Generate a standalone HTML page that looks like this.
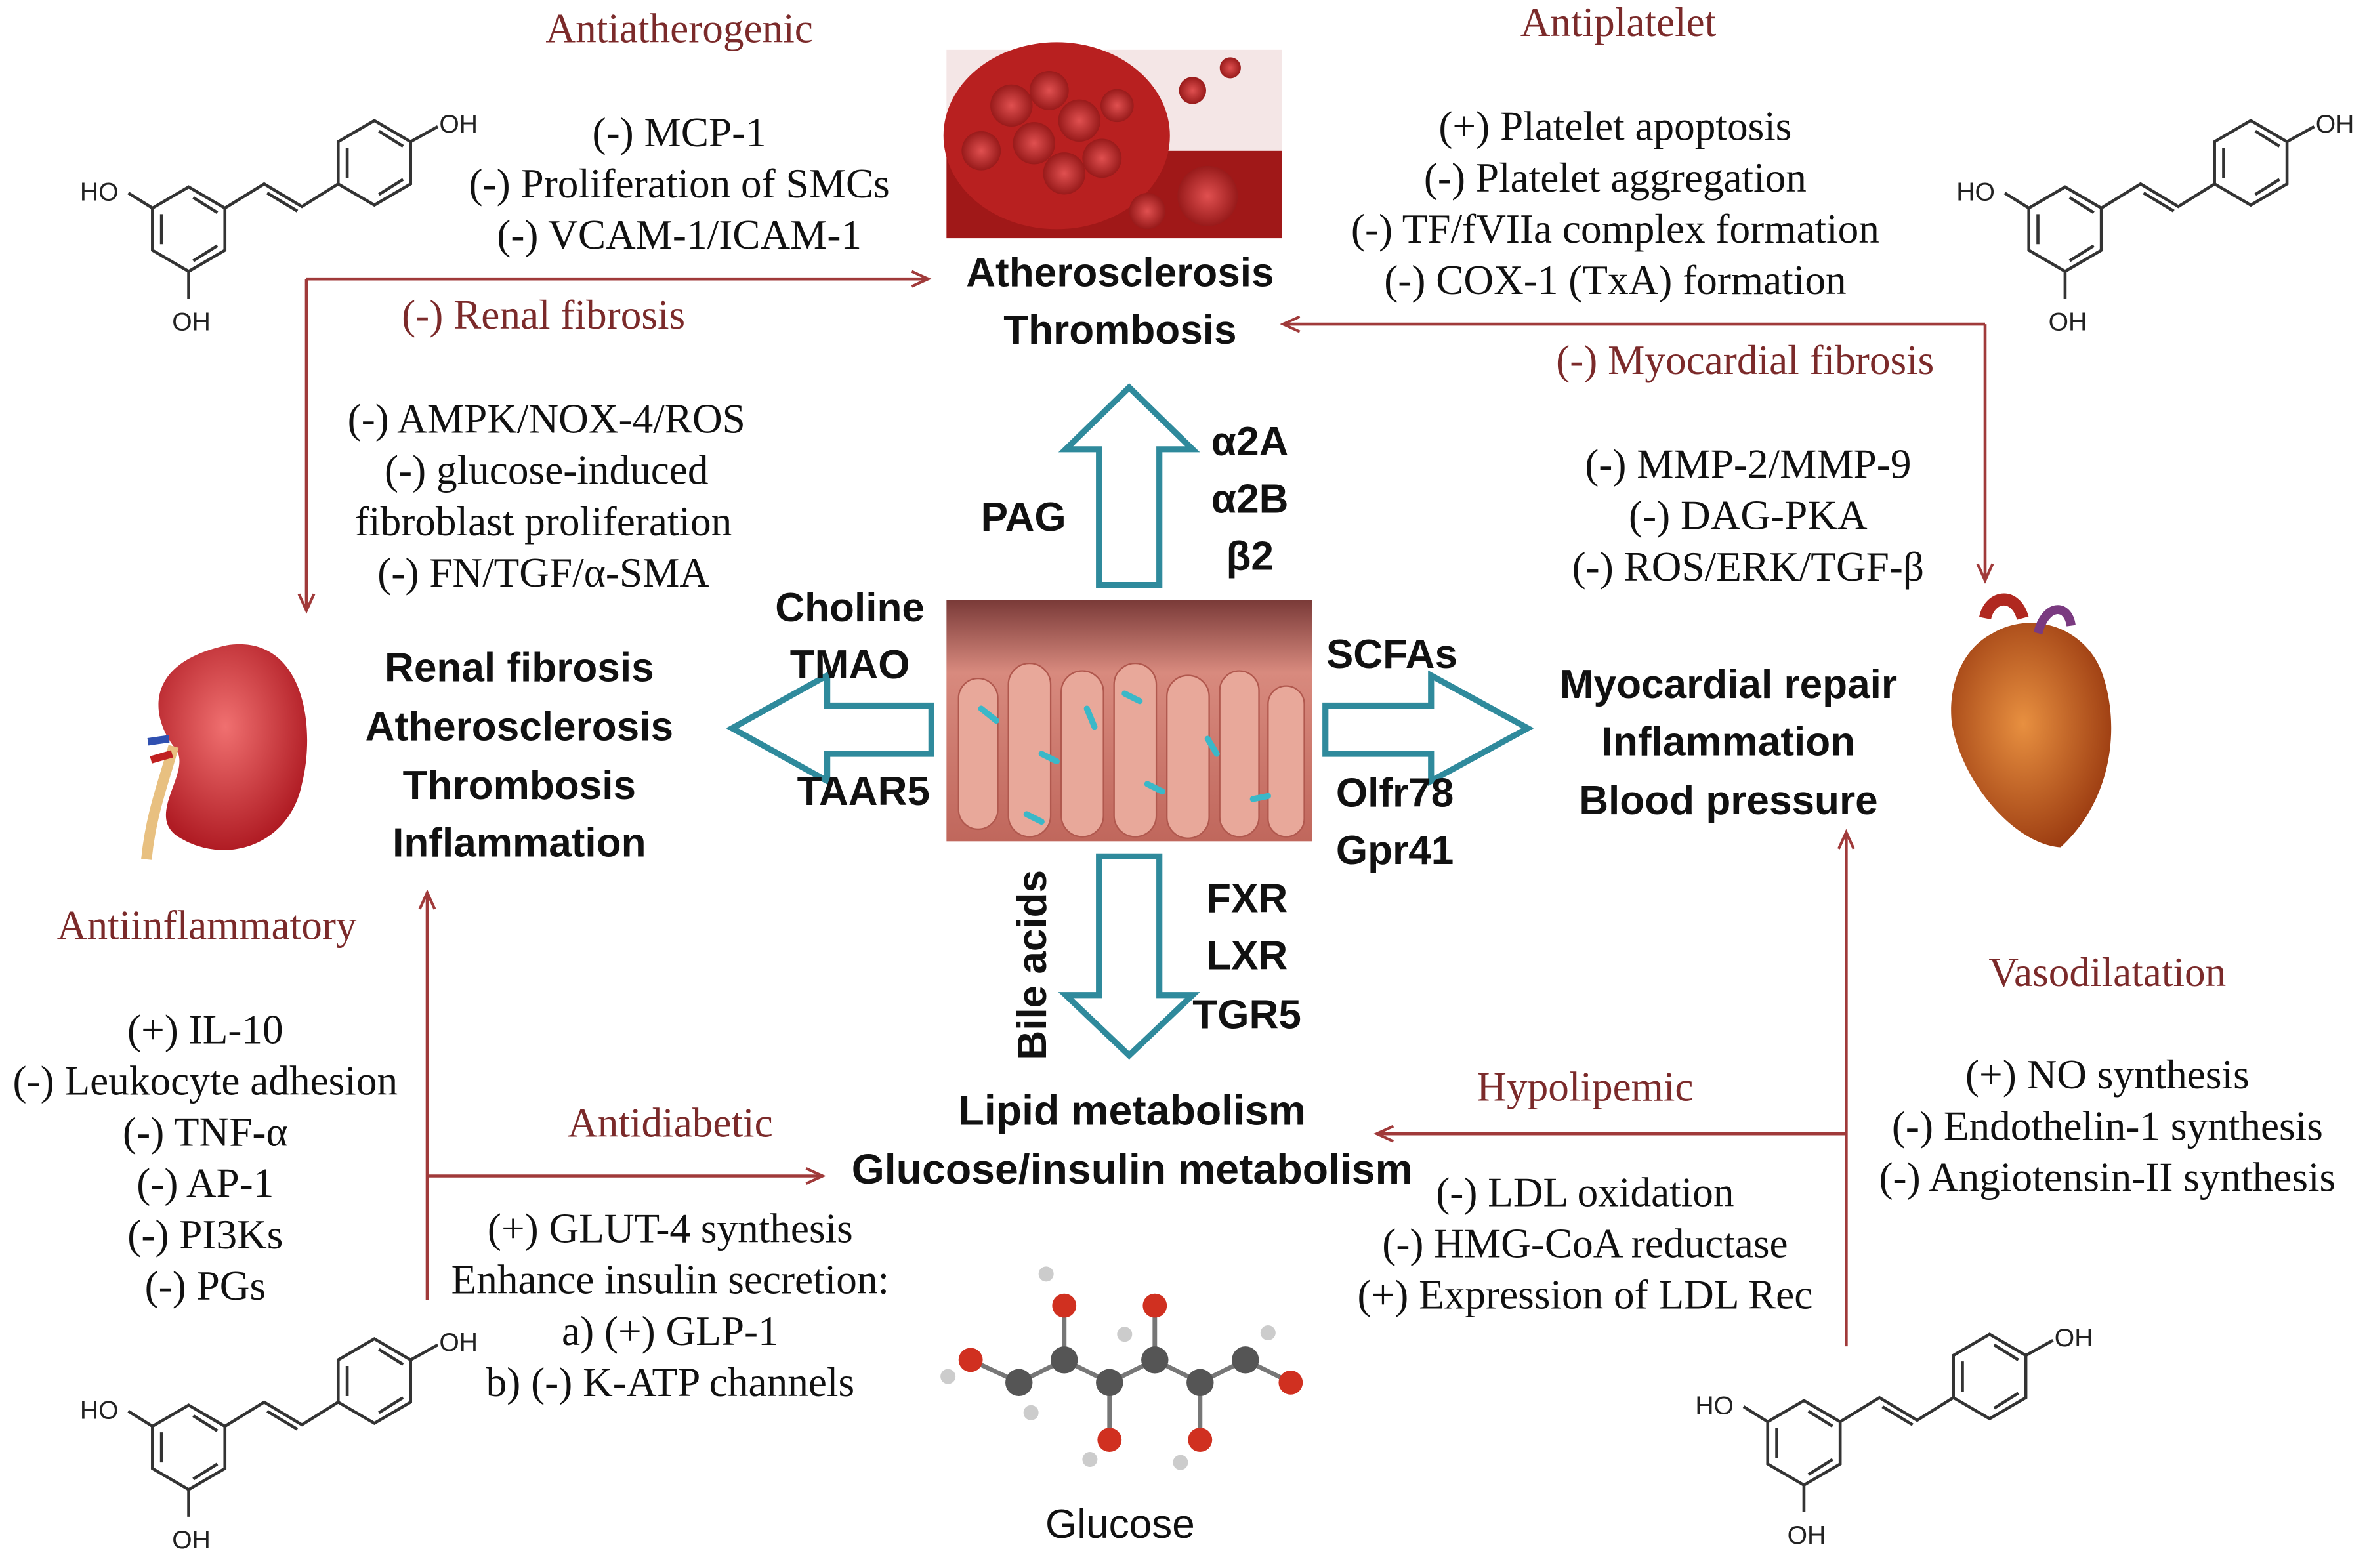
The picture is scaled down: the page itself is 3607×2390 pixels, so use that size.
<!DOCTYPE html>
<html><head><meta charset="utf-8"><style>
html,body{margin:0;padding:0;background:#fff;}
svg{display:block;}
.h{font-family:"Liberation Serif",serif;font-size:27.5px;fill:#7b2a2a;}
.t{font-family:"Liberation Serif",serif;font-size:27.5px;fill:#111;}
.b{font-family:"Liberation Sans",sans-serif;font-weight:bold;font-size:27px;fill:#111;}
.m{font-family:"Liberation Sans",sans-serif;font-size:17px;fill:#222;}
.mol line,.mol polyline,.mol polygon{stroke:#333;stroke-width:2;fill:none;}
.rl{stroke:#a03a3a;stroke-width:2;fill:none;}
.ta{stroke:#2f8a9c;stroke-width:4;fill:#fff;stroke-linejoin:miter;}
</style></head><body>
<svg width="3607" height="2390" viewBox="0 0 1568 1040" preserveAspectRatio="none" xmlns="http://www.w3.org/2000/svg">
<defs>
<marker id="ar" markerWidth="14" markerHeight="12" refX="12" refY="6" orient="auto" markerUnits="userSpaceOnUse">
<polyline points="1,1 12,6 1,11" fill="none" stroke="#a03a3a" stroke-width="1.8"/></marker>
<radialGradient id="rbc" cx="50%" cy="50%" r="60%"><stop offset="0" stop-color="#e05050"/><stop offset="1" stop-color="#8a1010"/></radialGradient>
<linearGradient id="gut" x1="0" y1="0" x2="0" y2="1"><stop offset="0" stop-color="#7a3a38"/><stop offset="0.3" stop-color="#d88a7e"/><stop offset="1" stop-color="#c0675c"/></linearGradient>
<radialGradient id="kid" cx="45%" cy="40%" r="60%"><stop offset="0" stop-color="#f07070"/><stop offset="1" stop-color="#b01c24"/></radialGradient>
<radialGradient id="hrt" cx="45%" cy="45%" r="60%"><stop offset="0" stop-color="#e89040"/><stop offset="1" stop-color="#9a3a10"/></radialGradient>
</defs>

<g class="mol">
<polygon points="125,124 149,138 149,166 125,180 101,166 101,138"/>
<line x1="107" y1="142" x2="107" y2="162"/><line x1="128" y1="173" x2="144" y2="163"/><line x1="128" y1="131" x2="144" y2="141"/>
<line x1="101" y1="138" x2="85" y2="128"/><line x1="125" y1="180" x2="125" y2="198"/>
<polyline points="149,138 175,122 200,137 224,122"/><line x1="177" y1="128" x2="197" y2="140"/>
<polygon points="248,80 272,94 272,122 248,136 224,122 224,94"/>
<line x1="230" y1="98" x2="230" y2="118"/><line x1="251" y1="87" x2="267" y2="97"/><line x1="251" y1="129" x2="267" y2="119"/>
<line x1="272" y1="94" x2="290" y2="84"/>
<text x="53" y="133" class="m">HO</text><text x="114" y="219" class="m">OH</text><text x="291" y="88" class="m">OH</text>
</g>
<g transform="translate(1243,0)" class="mol">
<polygon points="125,124 149,138 149,166 125,180 101,166 101,138"/>
<line x1="107" y1="142" x2="107" y2="162"/><line x1="128" y1="173" x2="144" y2="163"/><line x1="128" y1="131" x2="144" y2="141"/>
<line x1="101" y1="138" x2="85" y2="128"/><line x1="125" y1="180" x2="125" y2="198"/>
<polyline points="149,138 175,122 200,137 224,122"/><line x1="177" y1="128" x2="197" y2="140"/>
<polygon points="248,80 272,94 272,122 248,136 224,122 224,94"/>
<line x1="230" y1="98" x2="230" y2="118"/><line x1="251" y1="87" x2="267" y2="97"/><line x1="251" y1="129" x2="267" y2="119"/>
<line x1="272" y1="94" x2="290" y2="84"/>
<text x="53" y="133" class="m">HO</text><text x="114" y="219" class="m">OH</text><text x="291" y="88" class="m">OH</text>
</g>
<g transform="translate(0,808)" class="mol">
<polygon points="125,124 149,138 149,166 125,180 101,166 101,138"/>
<line x1="107" y1="142" x2="107" y2="162"/><line x1="128" y1="173" x2="144" y2="163"/><line x1="128" y1="131" x2="144" y2="141"/>
<line x1="101" y1="138" x2="85" y2="128"/><line x1="125" y1="180" x2="125" y2="198"/>
<polyline points="149,138 175,122 200,137 224,122"/><line x1="177" y1="128" x2="197" y2="140"/>
<polygon points="248,80 272,94 272,122 248,136 224,122 224,94"/>
<line x1="230" y1="98" x2="230" y2="118"/><line x1="251" y1="87" x2="267" y2="97"/><line x1="251" y1="129" x2="267" y2="119"/>
<line x1="272" y1="94" x2="290" y2="84"/>
<text x="53" y="133" class="m">HO</text><text x="114" y="219" class="m">OH</text><text x="291" y="88" class="m">OH</text>
</g>
<g transform="translate(1070,805)" class="mol">
<polygon points="125,124 149,138 149,166 125,180 101,166 101,138"/>
<line x1="107" y1="142" x2="107" y2="162"/><line x1="128" y1="173" x2="144" y2="163"/><line x1="128" y1="131" x2="144" y2="141"/>
<line x1="101" y1="138" x2="85" y2="128"/><line x1="125" y1="180" x2="125" y2="198"/>
<polyline points="149,138 175,122 200,137 224,122"/><line x1="177" y1="128" x2="197" y2="140"/>
<polygon points="248,80 272,94 272,122 248,136 224,122 224,94"/>
<line x1="230" y1="98" x2="230" y2="118"/><line x1="251" y1="87" x2="267" y2="97"/><line x1="251" y1="129" x2="267" y2="119"/>
<line x1="272" y1="94" x2="290" y2="84"/>
<text x="53" y="133" class="m">HO</text><text x="114" y="219" class="m">OH</text><text x="291" y="88" class="m">OH</text>
</g>

<!-- blood image -->
<rect x="627" y="33" width="222" height="125" fill="#f4e6e6"/>
<rect x="627" y="100" width="222" height="58" fill="#a01818"/>
<ellipse cx="700" cy="90" rx="75" ry="62" fill="#b82020"/>
<g fill="url(#rbc)">
<circle cx="670" cy="70" r="14"/><circle cx="695" cy="60" r="13"/><circle cx="715" cy="80" r="14"/><circle cx="685" cy="95" r="14"/>
<circle cx="650" cy="100" r="13"/><circle cx="730" cy="105" r="13"/><circle cx="705" cy="115" r="14"/><circle cx="740" cy="70" r="11"/>
<circle cx="790" cy="60" r="9"/><circle cx="815" cy="45" r="7"/><circle cx="800" cy="130" r="20"/><circle cx="760" cy="140" r="12"/>
</g>
<!-- gut image -->
<rect x="627" y="398" width="242" height="160" fill="url(#gut)"/>
<g fill="#e8a89a" stroke="#b0584e" stroke-width="1">
<rect x="635" y="450" width="26" height="100" rx="13"/><rect x="668" y="440" width="28" height="115" rx="14"/><rect x="703" y="445" width="28" height="110" rx="14"/>
<rect x="738" y="440" width="28" height="115" rx="14"/><rect x="773" y="448" width="28" height="108" rx="14"/><rect x="808" y="445" width="26" height="110" rx="13"/><rect x="840" y="455" width="24" height="100" rx="12"/>
</g>
<g stroke="#3ab8c8" stroke-width="4" stroke-linecap="round">
<line x1="650" y1="470" x2="660" y2="478"/><line x1="690" y1="500" x2="700" y2="505"/><line x1="720" y1="470" x2="725" y2="482"/><line x1="760" y1="520" x2="770" y2="525"/><line x1="800" y1="490" x2="806" y2="500"/><line x1="830" y1="530" x2="840" y2="528"/><line x1="745" y1="460" x2="755" y2="465"/><line x1="680" y1="540" x2="690" y2="545"/>
</g>
<!-- kidney -->
<path d="M150,428 C200,420 210,480 200,520 C192,560 150,575 118,555 C95,540 130,510 115,495 C100,475 95,440 150,428Z" fill="url(#kid)"/>
<path d="M115,495 C108,520 100,540 97,570" stroke="#e8c080" stroke-width="7" fill="none"/>
<path d="M112,490 L98,492" stroke="#3050b0" stroke-width="5"/><path d="M114,500 L100,504" stroke="#c02020" stroke-width="5"/>
<!-- heart -->
<path d="M1320,420 C1345,405 1380,415 1392,445 C1405,480 1400,530 1365,562 C1335,560 1300,520 1293,480 C1290,455 1300,430 1320,420Z" fill="url(#hrt)"/>
<path d="M1315,410 C1318,395 1335,392 1340,410" stroke="#b02820" stroke-width="8" fill="none"/>
<path d="M1350,420 C1355,400 1370,400 1372,415" stroke="#7a3a80" stroke-width="6" fill="none"/>
<!-- glucose -->
<g stroke="#777" stroke-width="3">
<line x1="643" y1="902" x2="675" y2="917"/><line x1="675" y1="917" x2="705" y2="902"/><line x1="705" y1="902" x2="735" y2="917"/><line x1="735" y1="917" x2="765" y2="902"/><line x1="765" y1="902" x2="795" y2="917"/><line x1="795" y1="917" x2="825" y2="902"/><line x1="825" y1="902" x2="855" y2="917"/>
<line x1="705" y1="902" x2="705" y2="866"/><line x1="765" y1="902" x2="765" y2="866"/><line x1="735" y1="917" x2="735" y2="955"/><line x1="795" y1="917" x2="795" y2="955"/>
</g>
<g fill="#d03020"><circle cx="643" cy="902" r="8"/><circle cx="855" cy="917" r="8"/><circle cx="705" cy="866" r="8"/><circle cx="765" cy="866" r="8"/><circle cx="735" cy="955" r="8"/><circle cx="795" cy="955" r="8"/></g>
<g fill="#555"><circle cx="675" cy="917" r="9"/><circle cx="705" cy="902" r="9"/><circle cx="735" cy="917" r="9"/><circle cx="765" cy="902" r="9"/><circle cx="795" cy="917" r="9"/><circle cx="825" cy="902" r="9"/></g>
<g fill="#ccc"><circle cx="628" cy="913" r="5"/><circle cx="693" cy="845" r="5"/><circle cx="722" cy="968" r="5"/><circle cx="782" cy="970" r="5"/><circle cx="840" cy="884" r="5"/><circle cx="683" cy="937" r="5"/><circle cx="745" cy="885" r="5"/></g>

<polygon class="ta" points="728,388 728,298 706,298 748,257 790,298 768,298 768,388"/>
<polygon class="ta" points="617,468 548,468 548,448 485,483 548,518 548,500 617,500"/>
<polygon class="ta" points="878,468 948,468 948,448 1012,483 948,518 948,500 878,500"/>
<polygon class="ta" points="728,568 728,660 706,660 748,700 790,660 768,660 768,568"/>

<polyline class="rl" points="203,185 615,185" marker-end="url(#ar)"/>
<polyline class="rl" points="203,185 203,405" marker-end="url(#ar)"/>
<polyline class="rl" points="1315,215 850,215" marker-end="url(#ar)"/>
<polyline class="rl" points="1315,215 1315,385" marker-end="url(#ar)"/>
<polyline class="rl" points="283,862 283,592" marker-end="url(#ar)"/>
<polyline class="rl" points="283,780 545,780" marker-end="url(#ar)"/>
<polyline class="rl" points="1223,893 1223,552" marker-end="url(#ar)"/>
<polyline class="rl" points="1223,752 912,752" marker-end="url(#ar)"/>

<text class="h" x="450" y="28" text-anchor="middle">Antiatherogenic</text>
<text class="h" x="1072" y="24" text-anchor="middle">Antiplatelet</text>
<text class="h" x="360" y="218" text-anchor="middle">(-) Renal fibrosis</text>
<text class="h" x="1156" y="248" text-anchor="middle">(-) Myocardial fibrosis</text>
<text class="h" x="137" y="623" text-anchor="middle">Antiinflammatory</text>
<text class="h" x="444" y="754" text-anchor="middle">Antidiabetic</text>
<text class="h" x="1050" y="730" text-anchor="middle">Hypolipemic</text>
<text class="h" x="1396" y="654" text-anchor="middle">Vasodilatation</text>

<g class="t" text-anchor="middle">
<text x="450" y="97">(-)  MCP-1</text><text x="450" y="131">(-) Proliferation of SMCs</text><text x="450" y="165">(-) VCAM-1/ICAM-1</text>
<text x="1070" y="93">(+) Platelet apoptosis</text><text x="1070" y="127">(-) Platelet aggregation</text><text x="1070" y="161">(-)  TF/fVIIa complex formation</text><text x="1070" y="195">(-) COX-1 (TxA) formation</text>
<text x="362" y="287">(-) AMPK/NOX-4/ROS</text><text x="362" y="321">(-) glucose-induced</text><text x="360" y="355">fibroblast proliferation</text><text x="360" y="389">(-) FN/TGF/α-SMA</text>
<text x="1158" y="317">(-) MMP-2/MMP-9</text><text x="1158" y="351">(-) DAG-PKA</text><text x="1158" y="385">(-) ROS/ERK/TGF-β</text>
<text x="136" y="692">(+) IL-10</text><text x="136" y="726">(-) Leukocyte adhesion</text><text x="136" y="760">(-) TNF-α</text><text x="136" y="794">(-) AP-1</text><text x="136" y="828">(-) PI3Ks</text><text x="136" y="862">(-) PGs</text>
<text x="444" y="824">(+) GLUT-4 synthesis</text><text x="444" y="858">Enhance insulin secretion:</text><text x="444" y="892">a) (+) GLP-1</text><text x="444" y="926">b) (-) K-ATP channels</text>
<text x="1050" y="800">(-) LDL oxidation</text><text x="1050" y="834">(-) HMG-CoA reductase</text><text x="1050" y="868">(+) Expression of LDL Rec</text>
<text x="1396" y="722">(+) NO synthesis</text><text x="1396" y="756">(-) Endothelin-1 synthesis</text><text x="1396" y="790">(-) Angiotensin-II synthesis</text>
</g>

<g class="b" text-anchor="middle">
<text x="742" y="190">Atherosclerosis</text><text x="742" y="228">Thrombosis</text>
<text x="828" y="302">α2A</text><text x="828" y="340">α2B</text><text x="828" y="378">β2</text>
<text x="678" y="352">PAG</text>
<text x="563" y="412">Choline</text><text x="563" y="450">TMAO</text><text x="572" y="534">TAAR5</text>
<text x="344" y="452">Renal fibrosis</text><text x="344" y="491">Atherosclerosis</text><text x="344" y="530">Thrombosis</text><text x="344" y="568">Inflammation</text>
<text x="922" y="443">SCFAs</text><text x="924" y="535">Olfr78</text><text x="924" y="573">Gpr41</text>
<text x="1145" y="463">Myocardial repair</text><text x="1145" y="501">Inflammation</text><text x="1145" y="540">Blood pressure</text>
<text x="826" y="605">FXR</text><text x="826" y="643">LXR</text><text x="826" y="682">TGR5</text>
<text x="750" y="746" style="font-size:28px">Lipid metabolism</text><text x="750" y="785" style="font-size:28px">Glucose/insulin metabolism</text>
</g>
<text class="b" transform="translate(693,640) rotate(-90)" text-anchor="middle">Bile acids</text>
<text x="742" y="1020" text-anchor="middle" style="font-family:'Liberation Sans',sans-serif;font-size:27px;fill:#111">Glucose</text>
</svg>
</body></html>
